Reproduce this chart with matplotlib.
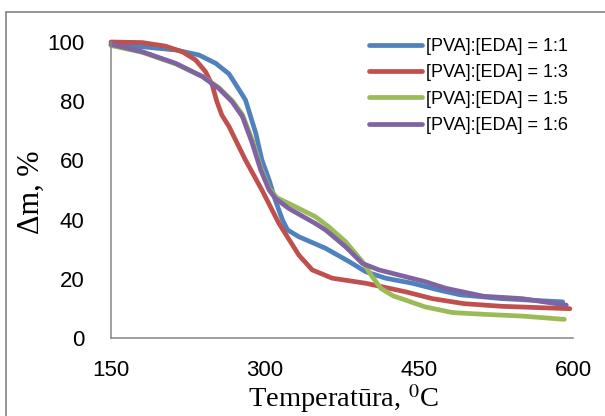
import matplotlib
matplotlib.use("Agg")
import matplotlib.pyplot as plt
from matplotlib.patches import Rectangle

# ---- data ----
labels = ["[PVA]:[EDA] = 1:1", "[PVA]:[EDA] = 1:3", "[PVA]:[EDA] = 1:5", "[PVA]:[EDA] = 1:6"]
colors = ["#4F81BD", "#C0504D", "#9BBB59", "#8064A2"]

t_11 = [150, 180.5, 213, 235.7, 252, 265, 276, 281, 291, 297, 304, 310, 317, 322, 333, 359, 382, 398, 417.5, 443.5, 469.5, 490, 531, 590]
m_11 = [99.1, 98.4, 97.3, 95.6, 92.8, 89.2, 83.2, 80.4, 69.2, 60.1, 53.4, 46.6, 39.9, 36.5, 34.2, 30.3, 25.8, 22.4, 20.2, 18.5, 16.2, 14.6, 13.3, 12.2]

t_13 = [150, 180.5, 203, 219.5, 232.5, 242, 248.6, 253, 258, 265, 281, 297, 313.6, 333, 346, 365.5, 398, 437, 463, 494, 531, 597]
m_13 = [100, 99.8, 98.6, 96.7, 93.9, 90.0, 85.5, 80.0, 75.3, 71.4, 60.1, 50.0, 38.7, 28.0, 23.0, 20.2, 18.5, 15.6, 13.3, 11.6, 10.7, 9.9]

t_15 = [150, 180.5, 213, 239, 255, 268, 278, 288, 296, 304, 312, 323, 349, 362, 378.6, 394.8, 404.5, 412.7, 425, 437, 456, 482.5, 513, 550.5, 591.6]
m_15 = [98.8, 96.5, 92.6, 88.4, 84.6, 80.2, 75.5, 66.5, 57.5, 50.5, 47.3, 45.5, 41.0, 37.6, 32.5, 25.8, 20.7, 16.8, 14.2, 12.8, 10.5, 8.6, 8.0, 7.4, 6.3]

t_16 = [150, 180.5, 213, 239, 255, 268, 278, 287.6, 295.8, 304, 310, 323, 349, 359, 378.6, 394.8, 411, 437, 456.4, 476, 513, 550.5, 593.5]
m_16 = [99.2, 96.7, 92.8, 88.3, 84.3, 79.8, 74.8, 65.8, 56.8, 50.0, 47.2, 43.8, 38.7, 36.5, 30.8, 25.2, 23.0, 20.7, 19.0, 16.8, 14.1, 13.3, 11.1]

x_ticks = [150, 300, 450, 600]
y_ticks = [0, 20, 40, 60, 80, 100]

W, H = 605, 416
fig = plt.figure(figsize=(W / 100, H / 100), dpi=100)
plt.rcParams["mathtext.fontset"] = "stix"

# outer border (top and left visible)
fig.patches.append(Rectangle((6 / W, -0.2), 1.2, 1.2 - 12 / H, transform=fig.transFigure,
                             fill=False, edgecolor="#8c8c8c", linewidth=1.3))

ax = fig.add_axes([111 / W, 1 - 338 / H, (573 - 111) / W, (338 - 42) / H])
series = [(t_11, m_11), (t_13, m_13), (t_15, m_15), (t_16, m_16)]
for i, (t, m) in enumerate(series):
    ax.plot(t, m, color=colors[i], lw=3.4, solid_capstyle="round", solid_joinstyle="round",
            label=labels[i], clip_on=False)

ax.set_xlim(150, 600)
ax.set_ylim(0, 100)
ax.set_xticks(x_ticks)
ax.set_yticks(y_ticks)
for s in ["top", "right"]:
    ax.spines[s].set_visible(False)
for s in ["left", "bottom"]:
    ax.spines[s].set_color("#868686")
    ax.spines[s].set_linewidth(1.1)
ax.tick_params(length=0, labelsize=16)
ax.tick_params(axis="x", pad=15.5)
ax.tick_params(axis="y", pad=19)
for lab in ax.get_xticklabels() + ax.get_yticklabels():
    lab.set_fontfamily("Liberation Sans")

fig.text(343 / W, 1 - 399 / H, "Temperatūra, $^{0}$C", family="Liberation Serif", fontsize=20.5,
         ha="center", va="center")
fig.text(31 / W, 1 - 192 / H, "Δm, %", family="Liberation Serif", fontsize=22,
         ha="center", va="center", rotation=90)

leg = ax.legend(loc="upper left", bbox_to_anchor=(369 / W, 1 - 38 / H), bbox_transform=fig.transFigure,
                frameon=False, prop={"family": "Liberation Sans", "size": 13},
                handlelength=2.95, handletextpad=0.2, labelspacing=0.52, borderpad=0, borderaxespad=0)

fig.savefig("out.png", dpi=100)
